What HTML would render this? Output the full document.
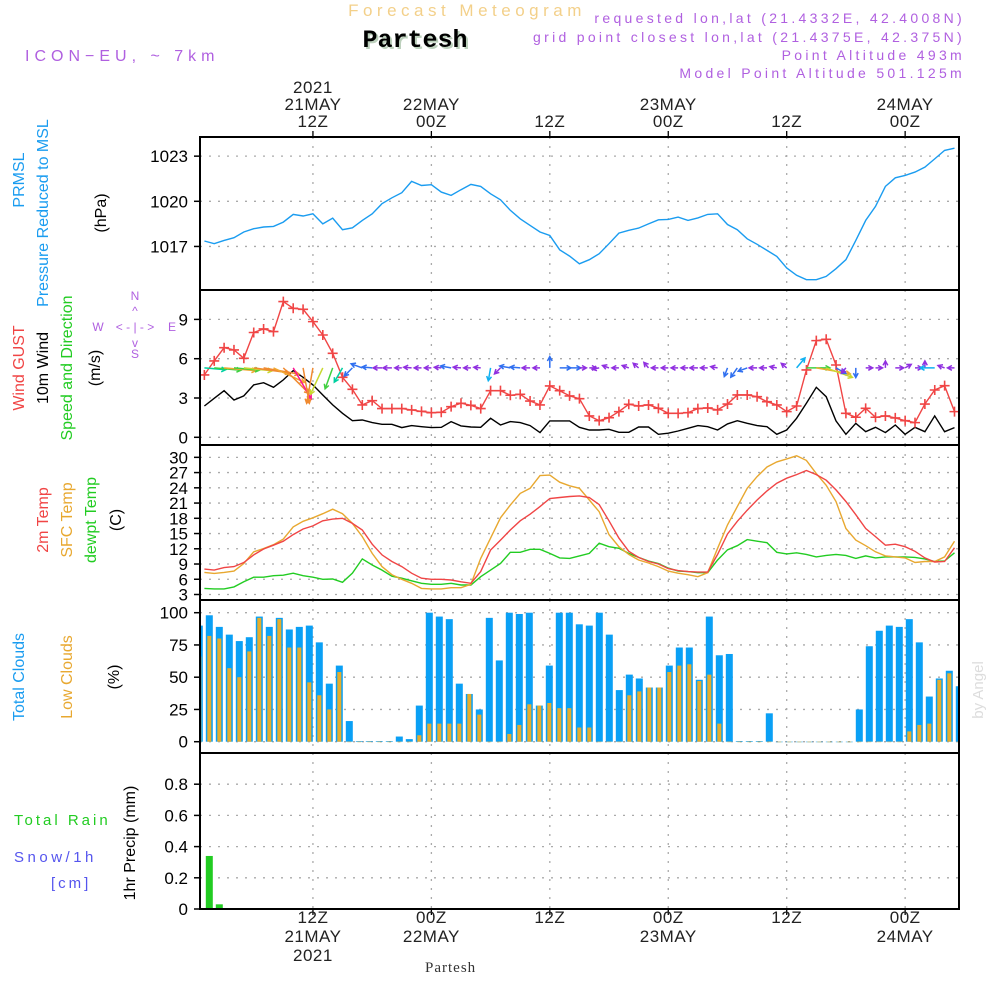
<!DOCTYPE html>
<html><head><meta charset="utf-8"><style>
html,body{margin:0;padding:0;background:#fff;}
svg{display:block;font-family:"Liberation Sans",sans-serif;}
</style></head><body>
<svg id="chart" width="1000" height="1000" viewBox="0 0 1000 1000" xmlns="http://www.w3.org/2000/svg">
<g>
<text x="467" y="16" text-anchor="middle" font-size="17" fill="#f3d08a" letter-spacing="4.5">Forecast Meteogram</text>
<text x="417" y="49" text-anchor="middle" font-size="25" font-weight="bold" font-family="Liberation Mono,monospace" fill="#bcd0bc">Partesh</text>
<text x="415" y="47" text-anchor="middle" font-size="25" font-weight="bold" font-family="Liberation Mono,monospace" fill="#000">Partesh</text>
<text x="25" y="61" font-size="16" fill="#b060e0" letter-spacing="5">ICON−EU, ~ 7km</text>
<text x="965" y="23" text-anchor="end" font-size="14" fill="#b060e0" letter-spacing="3.3">requested lon,lat (21.4332E, 42.4008N)</text>
<text x="965" y="42" text-anchor="end" font-size="14" fill="#b060e0" letter-spacing="3.3">grid point closest lon,lat (21.4375E, 42.375N)</text>
<text x="965" y="60" text-anchor="end" font-size="14" fill="#b060e0" letter-spacing="3.3">Point Altitude 493m</text>
<text x="965" y="78" text-anchor="end" font-size="14" fill="#b060e0" letter-spacing="3.3">Model Point Altitude 501.125m</text>
</g>
<g id="content"></g>
</svg>
<script>
const hours=[];for(let i=1;i<=77;i++)hours.push(i);
const pressure=[1017.36,1017.18,1017.4,1017.58,1017.96,1018.18,1018.29,1018.33,1018.62,1019.13,1019.02,1019.17,1018.5,1018.88,1018.11,1018.24,1018.73,1019.17,1019.84,1020.23,1020.57,1021.32,1021.05,1021.1,1020.61,1020.39,1020.77,1021.12,1020.99,1020.5,1020.1,1019.4,1018.84,1018.4,1017.96,1017.73,1016.78,1016.36,1015.85,1016.12,1016.52,1017.18,1017.89,1018.07,1018.22,1018.5,1018.77,1018.8,1018.95,1018.73,1018.9,1019.13,1019.17,1018.46,1018.11,1017.51,1017.14,1016.74,1016.34,1015.57,1015.08,1014.79,1014.79,1015.01,1015.52,1016.12,1017.4,1018.73,1019.66,1020.99,1021.56,1021.72,1021.94,1022.27,1022.82,1023.38,1023.53];
const gust=[4.76,5.83,6.84,6.67,6.03,8.0,8.27,8.07,10.36,9.85,9.77,8.83,7.81,6.41,4.58,3.66,2.47,2.8,2.19,2.19,2.19,2.09,1.98,1.88,1.91,2.34,2.6,2.44,2.19,3.56,3.56,3.21,3.28,2.77,2.47,3.92,3.56,3.16,2.95,1.63,1.27,1.5,1.96,2.52,2.39,2.47,2.21,1.83,1.83,1.88,2.19,2.24,2.09,2.54,3.23,3.23,3.1,2.72,2.47,1.96,2.39,5.14,7.38,7.48,5.52,1.83,1.53,2.21,1.53,1.63,1.48,1.27,1.12,2.54,3.61,3.94,1.96];
const wind=[2.39,2.98,3.56,2.85,3.16,4.0,4.17,3.82,4.38,5.09,4.58,4.0,3.23,2.47,1.83,1.27,1.32,1.12,0.99,0.99,0.74,0.89,0.81,0.74,0.76,1.2,0.87,0.79,0.76,1.45,0.94,1.2,1.12,0.89,0.36,1.25,1.25,1.25,0.76,0.56,0.56,0.61,0.38,0.38,0.79,0.79,0.23,0.31,0.48,0.69,0.89,0.81,0.56,1.02,1.27,1.07,0.89,0.81,0.23,0.56,1.45,2.6,3.82,3.1,1.25,0.23,1.07,0.43,0.76,0.36,0.94,0.23,0.76,0.43,1.63,0.43,0.74];
const windDir=[5,5,5,5,6,8,10,25,45,60,80,100,115,110,120,135,200,185,180,180,180,185,180,180,185,190,185,180,185,100,135,190,185,180,180,270,0,0,0,0,170,200,180,200,220,230,180,180,180,180,180,180,190,110,125,160,180,180,190,220,310,0,10,20,30,130,90,0,0,270,0,330,0,270,180,200,180];
const t2m=[8.0,7.8,8.3,8.5,9.3,10.8,11.95,12.7,13.5,14.8,15.9,16.5,17.5,17.85,18.0,17.0,15.7,12.9,10.8,9.5,8.5,7.2,6.2,6.0,6.0,5.85,5.5,5.2,7.5,11.75,13.7,15.7,17.5,18.8,20.3,21.9,22.1,22.3,22.4,22.1,20.7,17.5,14.1,11.5,10.3,9.5,9.0,8.1,7.7,7.5,7.4,7.4,10.9,14.9,17.4,19.6,21.6,23.4,24.9,25.9,26.6,27.4,26.6,25.5,23.6,21.3,18.7,16.0,14.4,12.7,12.9,12.4,11.5,10.2,9.4,9.5,12.2];
const sfcT=[7.36,7.16,7.36,7.6,9.1,11.4,12.05,12.8,13.9,16.3,17.4,18.1,18.9,19.8,18.9,17.0,14.4,11.1,8.5,6.9,6.0,5.2,4.2,4.1,4.1,4.34,4.34,5.0,10.1,14.1,18.1,20.6,22.9,23.9,26.4,26.5,25.1,24.4,23.9,21.6,19.3,14.8,12.4,10.9,9.8,9.2,8.5,7.6,7.2,6.9,6.5,7.3,12.1,16.7,20.3,23.9,26.2,28.1,29.1,29.7,30.3,29.4,26.8,24.5,21.3,16.0,13.7,12.6,11.4,10.6,10.4,10.2,9.3,9.5,9.5,10.4,13.5];
const dewT=[4.2,4.1,4.1,4.5,5.5,6.4,6.4,6.7,6.8,7.2,6.7,6.4,6.0,6.05,5.4,7.2,10.0,8.8,7.8,6.6,6.2,5.7,5.2,5.0,5.0,5.2,4.87,4.87,6.5,7.8,9.1,11.3,11.3,11.9,11.9,11.1,10.2,10.1,10.6,11.1,13.1,12.4,12.1,11.1,10.3,9.6,9.1,8.2,7.6,7.5,7.3,7.3,9.8,11.8,12.6,13.8,13.5,13.2,11.3,11.0,11.2,10.9,10.4,10.7,10.9,10.7,10.1,10.6,10.2,10.4,10.4,10.4,10.3,10.0,9.5,9.6,11.2];
const totalClouds=[90,98,89,83,78,81,97,89,96,87,89,90,77,45,59,16,0.5,0.5,0.5,0.5,4,2,28,100,97,95,45,37,25,96,63,100,99,100,28,59,100,100,91,90,100,83,40,52,49,42,42,59,73,73,48,97,67,68,0.5,0.5,0.5,22,0,0,0,0,0,0,0,0,25,74,86,90,89,95,77,35,49,55,43];
const lowClouds=[66,82,80,57,50,70,96,82,95,73,73,46,36,25,54,0,0,0,0,0,0,0,5,14,14,14,14,37,21,0,0,6,13,29,28,30,26,26,11,11,0,0,0,36,39,42,42,54,59,60,47,52,14,0,0,0,0,0,0,0,0,0,0,0,0,0,0,0,0,0,0,8,13,14,48,53,0];
const precip=[0,0.34,0.03];
const pTicks=[1017,1020,1023], wTicks=[0,3,6,9], tTicks=[3,6,9,12,15,18,21,24,27,30], cTicks=[0,25,50,75,100], rTicks=[0,0.2,0.4,0.6,0.8];
const rTickLabels=["0","0.2","0.4","0.6","0.8"];
const timeMarks=[12,24,36,48,60,72];
const topLabels=[["2021","21MAY","12Z"],["","22MAY","00Z"],["","","12Z"],["","23MAY","00Z"],["","","12Z"],["","24MAY","00Z"]];
const botLabels=[["12Z","21MAY","2021"],["00Z","22MAY",""],["12Z","",""],["00Z","23MAY",""],["12Z","",""],["00Z","24MAY",""]];

const NS="http://www.w3.org/2000/svg";
const root=document.getElementById('content');
function el(tag,attrs,parent,text){const e=document.createElementNS(NS,tag);for(const k in attrs)e.setAttribute(k,attrs[k]);if(text!==undefined)e.textContent=text;(parent||root).appendChild(e);return e;}
const X0=200,X1=959;
const xs=h=>194.5+9.87*h;
const bx=h=>189.3+10*h;
const yP=v=>201.3-(v-1020)*15.05;
const yW=v=>437.3-v*13.1;
const yT=v=>594.5-(v-3)*5.08;
const yC=v=>741.7-v*1.29;
const yR=v=>909-v*156;
const panels=[[137,290],[290,445],[445,600],[600,753],[753,909]];

const clip=el('clipPath',{id:'pc'});
el('rect',{x:X0,y:137,width:X1-X0,height:772},clip);

function hgrid(ticks,yf,labels,name){
  const g=el('g',{});
  
  
  ticks.forEach((t,i)=>{
    const y=yf(t);
    const l=el('line',{x1:X0,x2:X1,y1:y,y2:y,stroke:'#aaa','stroke-width':1.3,'stroke-dasharray':'2,7'},g);
    
    
    el('line',{x1:X0-6,x2:X0,y1:y,y2:y,stroke:'#000','stroke-width':1.5},g);
    const tx=el('text',{x:X0-12,y:y+6,'text-anchor':'end','font-size':17,fill:'#000'},g,labels?labels[i]:String(t));
    
    
  });
}
hgrid(pTicks,yP,null,'pressure');
hgrid(wTicks,yW,null,'wind');
hgrid(tTicks,yT,null,'temp');
hgrid(cTicks,yC,null,'clouds');
hgrid(rTicks,yR,rTickLabels,'precip');
panels.forEach(p=>{timeMarks.forEach(h=>{
  const l=el('line',{x1:xs(h),x2:xs(h),y1:p[0],y2:p[1],stroke:'#aaa','stroke-width':1.3,'stroke-dasharray':'2,7'});
  
  
});});

function line(vals,xf,yf,color,name,w){
  const d=vals.map((v,i)=>(i?'L':'M')+xf(hours[i]).toFixed(1)+','+yf(v).toFixed(1)).join('');
  const p=el('path',{d:d,fill:'none',stroke:color,'stroke-width':w||1.4,'clip-path':'url(#pc)'});
  
  
  return p;
}
line(pressure,xs,yP,'#1a9cf0','pressure-line');
line(wind,xs,yW,'#000','mean-wind-line');
line(gust,xs,yW,'#f04545','gust-line');
gust.forEach((v,i)=>{
  const x=xs(hours[i]),y=yW(v);
  const m=el('path',{d:`M${x-5},${y}h10M${x},${y-5}v10`,stroke:'#f04545','stroke-width':1.6,'clip-path':'url(#pc)'});
  
  
});
function wcol(s){if(s>=4.8)return'#ff1493';if(s>=4)return'#f08a30';if(s>=3.3)return'#f0a830';if(s>=3)return'#c8d830';if(s>=2.4)return'#40d040';if(s>=1.8)return'#00d0a0';if(s>=1.4)return'#10b0f0';if(s>=1)return'#3070f0';return'#9030e0';}
wind.forEach((s,i)=>{
  const x=xs(hours[i]),y=yW(5.3);
  const L=Math.max(7,Math.min(36,s*9));
  const a=windDir[i]*Math.PI/180;
  const x2=x+L*Math.cos(a),y2=y+L*Math.sin(a);
  const h1=a+Math.PI-0.5,h2=a+Math.PI+0.5;
  const c=wcol(s);
  const ar=el('path',{d:`M${x.toFixed(1)},${y.toFixed(1)}L${x2.toFixed(1)},${y2.toFixed(1)}M${(x2+5*Math.cos(h1)).toFixed(1)},${(y2+5*Math.sin(h1)).toFixed(1)}L${x2.toFixed(1)},${y2.toFixed(1)}L${(x2+5*Math.cos(h2)).toFixed(1)},${(y2+5*Math.sin(h2)).toFixed(1)}`,stroke:c,'stroke-width':1.5,fill:'none','clip-path':'url(#pc)'});
  
  
});
line(dewT,xs,yT,'#22cc22','dewpoint-line');
line(sfcT,xs,yT,'#e8a830','sfc-temp-line');
line(t2m,xs,yT,'#f04545','t2m-line');
totalClouds.forEach((v,i)=>{
  const x=bx(hours[i]);
  const r=el('rect',{x:x-3.5,y:yC(v),width:7,height:Math.max(0.5,yC(0)-yC(v)),fill:'#0aa0f5','clip-path':'url(#pc)'});
  
  
});
lowClouds.forEach((v,i)=>{
  const x=bx(hours[i]);
  const r=el('rect',{x:x-2,y:yC(v),width:4,height:Math.max(0.5,yC(0)-yC(v)),fill:'#e6ad2c','clip-path':'url(#pc)'});
  
  
});
precip.forEach((v,i)=>{
  const x=bx(hours[i]);
  const r=el('rect',{x:x-3.5,y:yR(v),width:7,height:yR(0)-yR(v),fill:'#22cc22','clip-path':'url(#pc)'});
  
  
});
el('line',{x1:X0,x2:X1,y1:yR(0),y2:yR(0),stroke:'#000','stroke-width':1,'stroke-dasharray':'3,2'});
panels.forEach(p=>{
  const r=el('rect',{x:X0,y:p[0],width:X1-X0,height:p[1]-p[0],fill:'none',stroke:'#000','stroke-width':2});
  
  
});
timeMarks.forEach((h,i)=>{
  const x=xs(h);
  el('line',{x1:x,x2:x,y1:131,y2:137,stroke:'#000','stroke-width':1.3});
  el('line',{x1:x,x2:x,y1:909,y2:915,stroke:'#000','stroke-width':1.3});
  topLabels[i].forEach((t,j)=>{if(!t)return;
    const tx=el('text',{x:x,y:93+j*17,'text-anchor':'middle','font-size':17,fill:'#222','letter-spacing':0.5},root,t);
    
    
  });
  botLabels[i].forEach((t,j)=>{if(!t)return;
    const tx=el('text',{x:x,y:923+j*19,'text-anchor':'middle','font-size':17,fill:'#222','letter-spacing':0.5},root,t);
    
    
  });
});
</script>
<script>
const svg=document.getElementById('chart');
function vt(x,y,txt,color,name,size){
  const t=document.createElementNS(NS,'text');
  t.setAttribute('transform',`translate(${x},${y}) rotate(-90)`);
  t.setAttribute('text-anchor','middle');t.setAttribute('font-size',size||16);t.setAttribute('fill',color);
  t.textContent=txt;
  
  
  svg.appendChild(t);
}
vt(24,180,'PRMSL','#1a9cf0','prmsl-label');
vt(48,213,'Pressure Reduced to MSL','#1a9cf0','pressure-title');
vt(106,213,'(hPa)','#000','pressure-unit');
vt(24,368,'Wind GUST','#f04545','gust-title');
vt(48,368,'10m Wind','#000','wind-title');
vt(72,368,'Speed and Direction','#22cc22','wind-dir-title');
vt(100,368,'(m/s)','#000','wind-unit');
vt(48,520,'2m Temp','#f04545','t2m-title');
vt(72,520,'SFC Temp','#e8a830','sfc-temp-title');
vt(96,520,'dewpt Temp','#22cc22','dewpoint-title');
vt(121,520,'(C)','#000','temp-unit');
vt(24,677,'Total Clouds','#1a9cf0','total-clouds-title');
vt(72,677,'Low Clouds','#e8a830','low-clouds-title');
vt(119,677,'(%)','#000','clouds-unit');
vt(135,843,'1hr Precip (mm)','#000','precip-title');
vt(983,690,'by Angel','#ddd','watermark',15);
function ht(x,y,txt,color,name,size,ls,fam,anchor){
  const t=document.createElementNS(NS,'text');
  t.setAttribute('x',x);t.setAttribute('y',y);t.setAttribute('font-size',size||15);t.setAttribute('fill',color);
  if(ls)t.setAttribute('letter-spacing',ls);
  if(fam)t.setAttribute('font-family',fam);
  if(anchor)t.setAttribute('text-anchor',anchor);
  t.textContent=txt;
  
  
  svg.appendChild(t);
}
ht(14,825,'Total   Rain','#22cc22','rain-legend',15,3);
ht(14,862,'Snow/1h','#5555ee','snow-legend',15,3.5);
ht(51,888,'[cm]','#5555ee','snow-unit',15,3);
ht(135,300,'N','#b060e0','compass-n',12,0,null,'middle');
ht(98,331,'W','#b060e0','compass-w',12,0,null,'middle');
ht(135,331,'< - | - >','#b060e0','compass-arrows',12,0,null,'middle');
ht(172,331,'E','#b060e0','compass-e',12,0,null,'middle');
ht(135,358,'S','#b060e0','compass-s',12,0,null,'middle');
ht(135,315,'^','#b060e0','compass-up',12,0,null,'middle');
ht(135,347,'v','#b060e0','compass-down',12,0,null,'middle');
ht(425,972,'Partesh','#333','footer-location',15,1,'Liberation Serif,serif');
</script>
</body></html>
